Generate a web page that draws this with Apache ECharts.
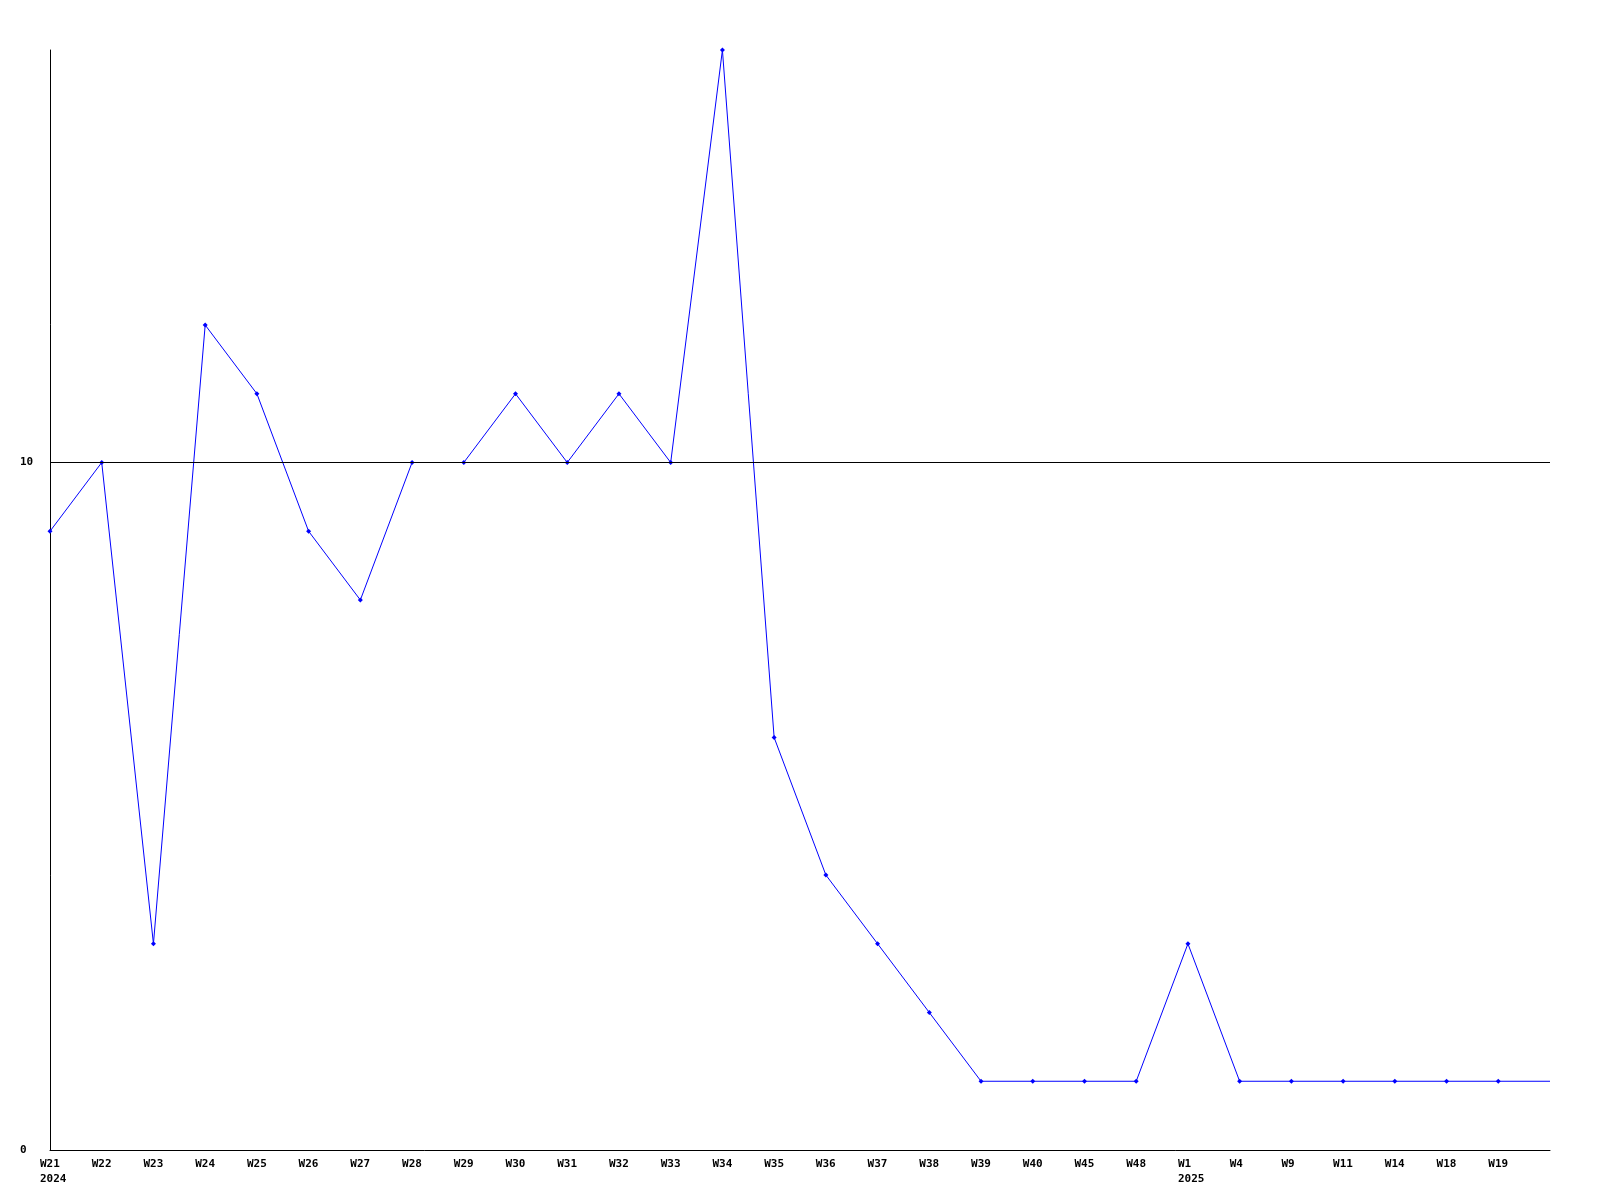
<!DOCTYPE html>
<html>
<head>
<meta charset="utf-8">
<script src="https://cdn.jsdelivr.net/npm/echarts@6/dist/echarts.min.js"></script>
<style>html,body{margin:0;padding:0;background:#fff}#c{width:1600px;height:1200px}</style>
</head>
<body>
<div id="c"></div>
<script>
const weeks = ['W21','W22','W23','W24','W25','W26','W27','W28','W29','W30','W31','W32','W33','W34','W35','W36','W37','W38','W39','W40','W45','W48','W1','W4','W9','W11','W14','W18','W19',''];
const yearLabels = {'W21':'2024','W1':'2025'};
const counts = [9,10,3,12,11,9,8,10,10,11,10,11,10,16,6,4,3,2,1,1,1,1,3,1,1,1,1,1,1,1];
const yTicks = [0,10];

const font = '"DejaVu Sans Mono", "Liberation Mono", monospace';
const chart = echarts.init(document.getElementById('c'), null, {renderer:'canvas'});
chart.setOption({
  animation:false,
  backgroundColor:'#fff',
  grid:{left:50,right:50,top:50,bottom:50,containLabel:false},
  xAxis:{
    type:'category', data:weeks, boundaryGap:false,
    axisLine:{show:true,lineStyle:{color:'#000',width:1}},
    axisTick:{show:false},
    splitLine:{show:false},
    axisLabel:{
      interval:0, margin:7, align:'left', padding:[0,0,0,-10],
      fontFamily:font, fontWeight:'bold', fontSize:11, color:'#000', lineHeight:15,
      formatter:function(v){ return yearLabels[v] ? v+'\n'+yearLabels[v] : v; }
    }
  },
  yAxis:{
    type:'value', min:0, max:16, interval:10,
    axisLine:{show:true,lineStyle:{color:'#000',width:1}},
    axisTick:{show:false},
    splitLine:{show:false},
    axisLabel:{
      margin:30, align:'left', showMaxLabel:false,
      fontFamily:font, fontWeight:'bold', fontSize:11, color:'#000',
      formatter:function(v){ return yTicks.indexOf(v)>=0 ? String(v) : ''; }
    }
  },
  series:[{
    type:'line',
    data:counts.map(function(v,i){ return weeks[i]==='' ? {value:v,symbol:'none'} : v; }),
    symbol:'diamond', symbolSize:5, showSymbol:true,
    lineStyle:{color:'#0000ff',width:1},
    itemStyle:{color:'#0000ff'},
    markLine:{
      silent:true, symbol:'none', label:{show:false},
      lineStyle:{color:'#000',width:1,type:'solid'},
      data:[{yAxis:10}]
    }
  }]
});
</script>
</body>
</html>
